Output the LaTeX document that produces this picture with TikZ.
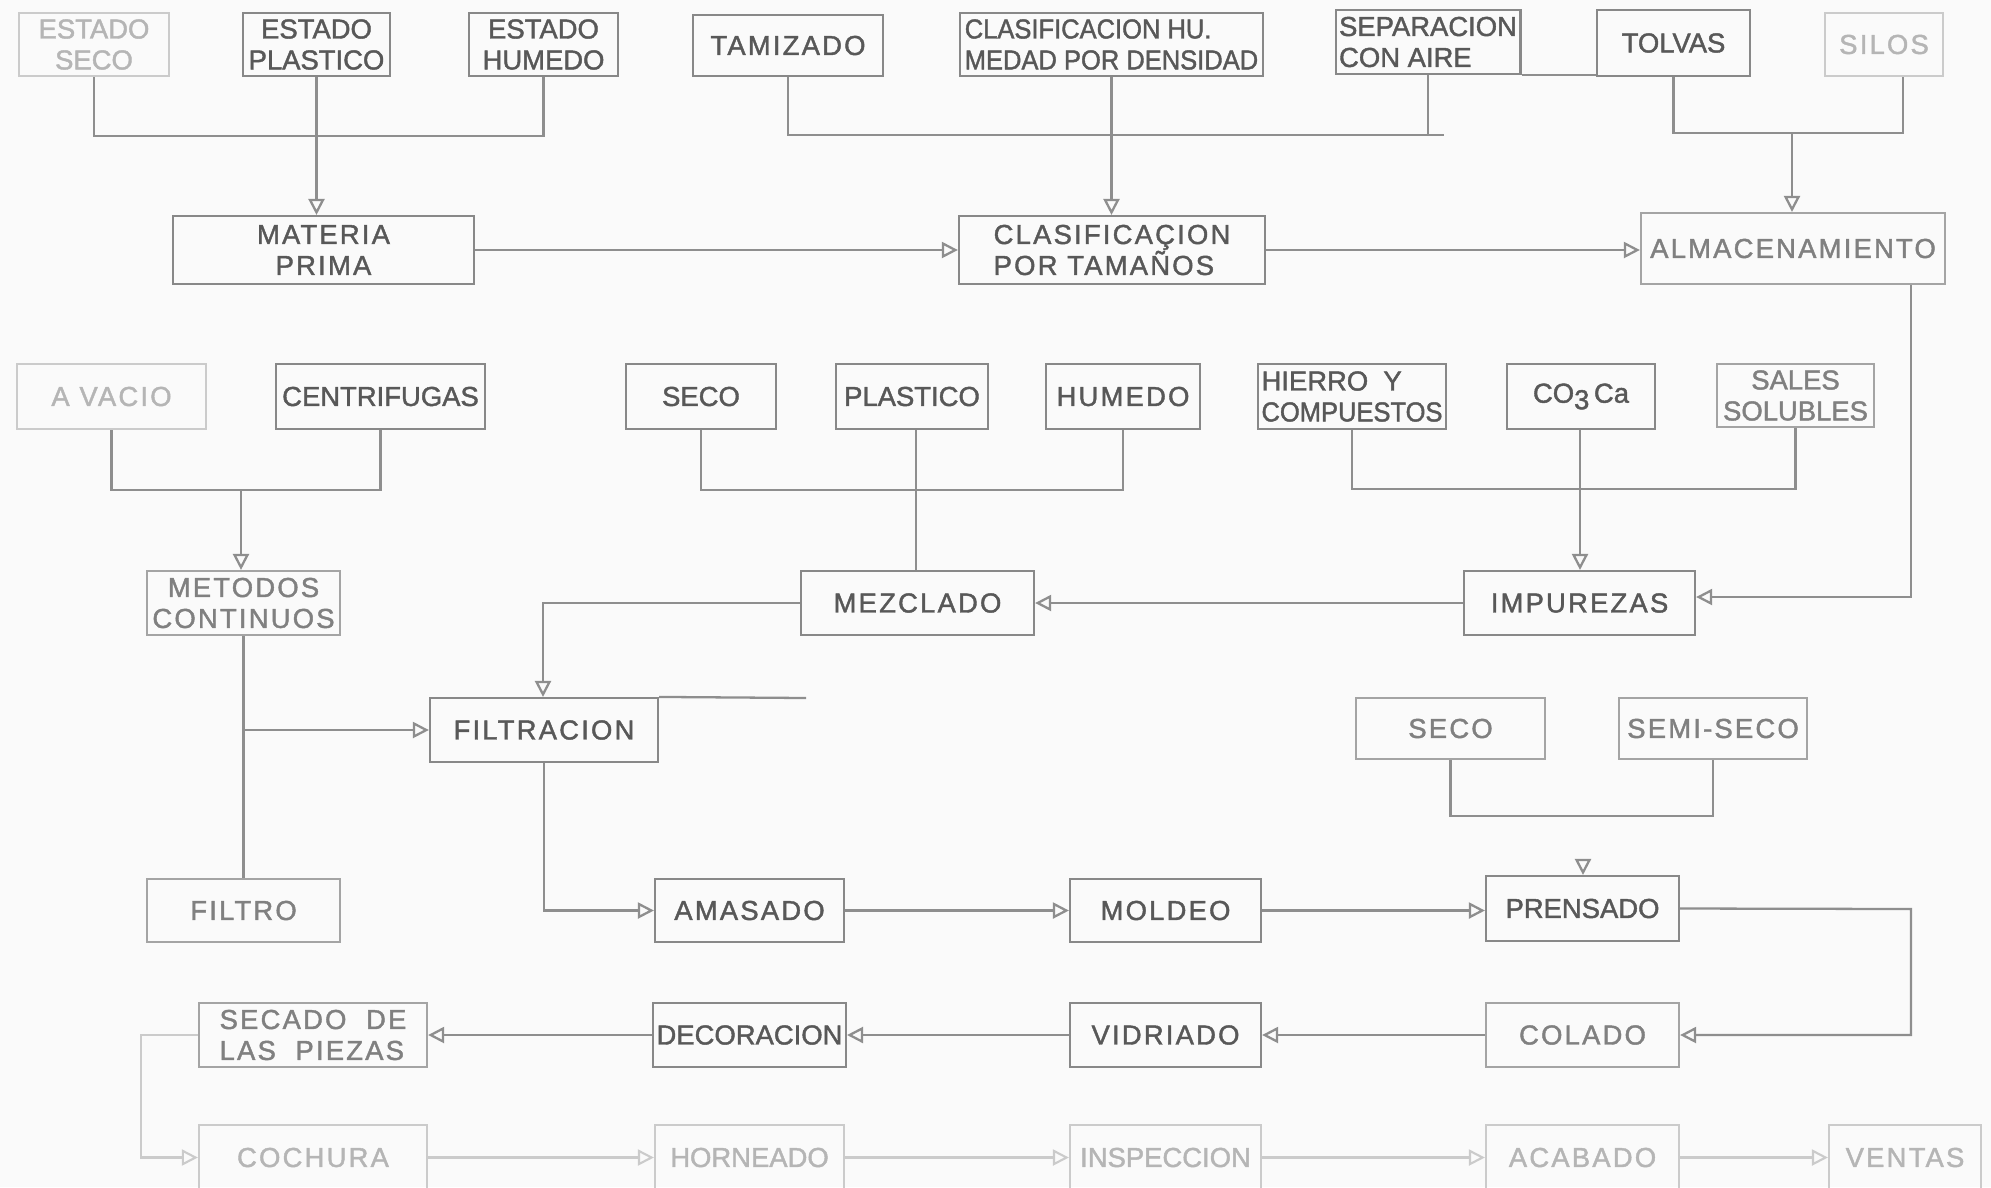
\documentclass[tikz,border=0pt]{standalone}
\usepackage{fontspec}
\usepackage{graphicx}
\setmainfont{Liberation Sans}[FakeBold=1.5]
\newfontfamily\widefont{Liberation Sans}[LetterSpace=8, FakeBold=1.5]
\usetikzlibrary{arrows.meta}
\definecolor{dk}{HTML}{585858}
\definecolor{md}{HTML}{808080}
\definecolor{lt}{HTML}{B5B5B5}
\definecolor{bdk}{HTML}{888888}
\definecolor{bmd}{HTML}{A4A4A4}
\definecolor{blt}{HTML}{CBCBCB}
\definecolor{lnc}{HTML}{8E8E8E}
\definecolor{bgc}{HTML}{FAFAFA}
\newcommand{\nx}[1]{\scalebox{0.93}[1]{#1}}
\tikzset{
  bx/.style={rectangle, draw, line width=0.6pt, inner sep=1pt, align=center,
             font=\fontsize{7.8}{8.8}\selectfont},
  wide/.style={font=\widefont\fontsize{7.8}{8.8}\selectfont},
  dkb/.style={bx, draw=bdk, text=dk},
  mdb/.style={bx, draw=bmd, text=md},
  ltb/.style={bx, draw=blt, text=lt},
  sz/.style 2 args={minimum width=#1cm, minimum height=#2cm},
  ln/.style={draw=lnc, line width=0.65pt},
  lnl/.style={draw=blt, line width=0.6pt},
  arr/.style={-{Triangle[open, length=1.6mm, width=1.6mm]}}
}
\begin{document}
\begin{tikzpicture}[x=0.01cm, y=-0.01cm]
\useasboundingbox (0,0) rectangle (1991,1187);
\fill[bgc] (0,0) rectangle (1991,1187);

% Row 1
\node[ltb, sz={1.50}{.63}] (esec) at (94,44.5) {ESTADO\\SECO};
\node[dkb, sz={1.47}{.63}] (epla) at (316.5,44.5) {ESTADO\\PLASTICO};
\node[dkb, sz={1.49}{.63}] (ehum) at (543.5,44.5) {ESTADO\\HUMEDO};
\node[dkb, wide, sz={1.90}{.61}] (tam) at (788,45.5) {TAMIZADO};
\node[dkb, sz={3.03}{.63}, align=left] (chu) at (1111.5,44.5) {\nx{CLASIFICACION HU.}\\\nx{MEDAD POR DENSIDAD}};
\node[dkb, sz={1.84}{.64}, align=left] (sep) at (1428,42) {SEPARACION\\CON AIRE};
\node[dkb, sz={1.53}{.66}] (tol) at (1673.5,43) {TOLVAS};
\node[ltb, wide, sz={1.18}{.63}] (sil) at (1884,44.5) {SILOS};

% Row 2
\node[dkb, wide, sz={3.01}{.68}] (mp) at (323.5,250) {MATERIA\\PRIMA};
\node[dkb, wide, sz={3.06}{.68}, align=left] (ct) at (1112,250) {CLASIFICAÇION\\POR TAMAÑOS};
\node[mdb, wide, sz={3.04}{.71}] (alm) at (1793,248.5) {ALMACENAMIENTO};

% Row 3
\node[ltb, wide, sz={1.89}{.65}] (vac) at (111.5,396.5) {A VACIO};
\node[dkb, sz={2.09}{.65}] (cen) at (380.5,396.5) {CENTRIFUGAS};
\node[dkb, sz={1.50}{.65}] (seco) at (701,396.5) {SECO};
\node[dkb, sz={1.52}{.65}] (pla) at (912,396.5) {PLASTICO};
\node[dkb, wide, sz={1.54}{.65}] (hum) at (1123,396.5) {HUMEDO};
\node[dkb, sz={1.84}{.65}, align=left] (hie) at (1352,396.5) {HIERRO\ \ Y\\\nx{COMPUESTOS}};
\node[dkb, sz={1.48}{.65}] (co) at (1581,396.5) {CO\raisebox{-0.45ex}{3}\,Ca};
\node[mdb, sz={1.57}{.63}] (sal) at (1795.5,395.5) {SALES\\SOLUBLES};

% Row 4
\node[mdb, wide, sz={1.93}{.64}] (met) at (243.5,603) {METODOS\\CONTINUOS};
\node[dkb, wide, sz={2.33}{.64}] (mez) at (917.5,603) {MEZCLADO};
\node[dkb, wide, sz={2.31}{.64}] (imp) at (1579.5,603) {IMPUREZAS};

% Row 5
\node[dkb, wide, sz={2.28}{.64}] (fil) at (544,730) {FILTRACION};
\node[mdb, wide, sz={1.89}{.61}] (s2) at (1450.5,728.5) {SECO};
\node[mdb, wide, sz={1.88}{.61}] (ss) at (1713,728.5) {SEMI-SECO};

% Row 6
\node[mdb, wide, sz={1.93}{.63}] (fro) at (243.5,910.5) {FILTRO};
\node[dkb, wide, sz={1.89}{.63}] (ama) at (749.5,910.5) {AMASADO};
\node[dkb, wide, sz={1.91}{.63}] (mol) at (1165.5,910.5) {MOLDEO};
\node[dkb, sz={1.93}{.65}] (pr) at (1582.5,908.5) {PRENSADO};

% Row 7
\node[mdb, wide, sz={2.28}{.64}, align=left] (sec) at (313,1035) {SECADO\ \ DE\\LAS\ \ PIEZAS};
\node[dkb, sz={1.89}{.64}] (dec) at (749.5,1035) {DECORACION};
\node[dkb, wide, sz={1.91}{.64}] (vid) at (1165.5,1035) {VIDRIADO};
\node[mdb, wide, sz={1.93}{.64}] (col) at (1582.5,1035) {COLADO};

% Row 8
\node[ltb, wide, sz={2.28}{.65}] (coc) at (313,1157.5) {COCHURA};
\node[ltb, sz={1.89}{.65}] (hor) at (749.5,1157.5) {HORNEADO};
\node[ltb, sz={1.91}{.65}] (ins) at (1165.5,1157.5) {INSPECCION};
\node[ltb, wide, sz={1.93}{.65}] (aca) at (1582.5,1157.5) {ACABADO};
\node[ltb, wide, sz={1.52}{.65}] (ven) at (1905,1157.5) {VENTAS};

% Connectors row 1
\coordinate (j1) at (317,136);
\draw[ln] (esec.south) |- (j1) -| (ehum.south);
\draw[ln, arr] (epla.south) -- (epla.south |- mp.north);
\coordinate (j2e) at (1444,135);
\draw[ln] (tam.south) |- (j2e);
\draw[ln] (sep.south) -- (sep.south |- j2e);
\draw[ln, arr] (chu.south) -- (chu.south |- ct.north);
\draw[ln] (sep.south east) -- (sep.south east -| tol.west);
\coordinate (j3e) at (1903,133);
\coordinate (j3) at (1792,133);
\draw[ln] (tol.south) |- (j3e) -- (j3e |- sil.south);
\draw[ln, arr] (j3) -- (j3 |- alm.north);

% Row 2
\draw[ln, arr] (mp.east) -- (ct.west);
\draw[ln, arr] (ct.east) -- (ct.east -| alm.west);
\coordinate (c1) at (1911,597);
\draw[ln, arr] (alm.south -| c1) -- (c1) -- (c1 -| imp.east);

% Row 3
\coordinate (j4) at (241,490);
\draw[ln] (vac.south) |- (j4) -| (cen.south);
\draw[ln, arr] (j4) -- (j4 |- met.north);
\coordinate (j5) at (916,490);
\draw[ln] (seco.south) |- (j5) -| (hum.south);
\draw[ln] (pla.south -| j5) -- (j5 |- mez.north);
\coordinate (j6) at (1580,489);
\draw[ln] (hie.south) |- (j6) -| (sal.south);
\draw[ln, arr] (co.south -| j6) -- (j6 |- imp.north);

% Row 4
\draw[ln, arr] (imp.west) -- (imp.west -| mez.east);
\coordinate (c2) at (543,603);
\draw[ln, arr] (mez.west) -- (c2) -- (c2 |- fil.north);
\draw[ln] (met.south) -- (met.south |- fro.north);
\coordinate (c3) at (243.5,730);
\draw[ln, arr] (c3) -- (fil.west);
\coordinate (st) at (806,698);
\draw[ln] (fil.north east) -- (st);

% Row 5
\coordinate (j7) at (1583,816);
\draw[ln] (s2.south) |- (j7) -| (ss.south);
\coordinate (pa) at (1583,861);
\draw[ln, arr] (pa) -- (pa |- pr.north);

% Row 6
\draw[ln, arr] (fil.south) |- (ama.west);
\draw[ln, arr] (ama.east) -- (mol.west);
\draw[ln, arr] (mol.east) -- (mol.east -| pr.west);
\coordinate (c4) at (1911,909);
\draw[ln, arr] (pr.east) -- (c4) -- (c4 |- col.east) -- (col.east);

% Row 7
\draw[ln, arr] (col.west) -- (vid.east);
\draw[ln, arr] (vid.west) -- (dec.east);
\draw[ln, arr] (dec.west) -- (sec.east);
\coordinate (c5) at (141,1035);
\draw[lnl, arr] (sec.west) -- (c5) |- (coc.west);

% Row 8
\draw[lnl, arr] (coc.east) -- (hor.west);
\draw[lnl, arr] (hor.east) -- (ins.west);
\draw[lnl, arr] (ins.east) -- (aca.west);
\draw[lnl, arr] (aca.east) -- (aca.east -| ven.west);
\end{tikzpicture}
\end{document}
